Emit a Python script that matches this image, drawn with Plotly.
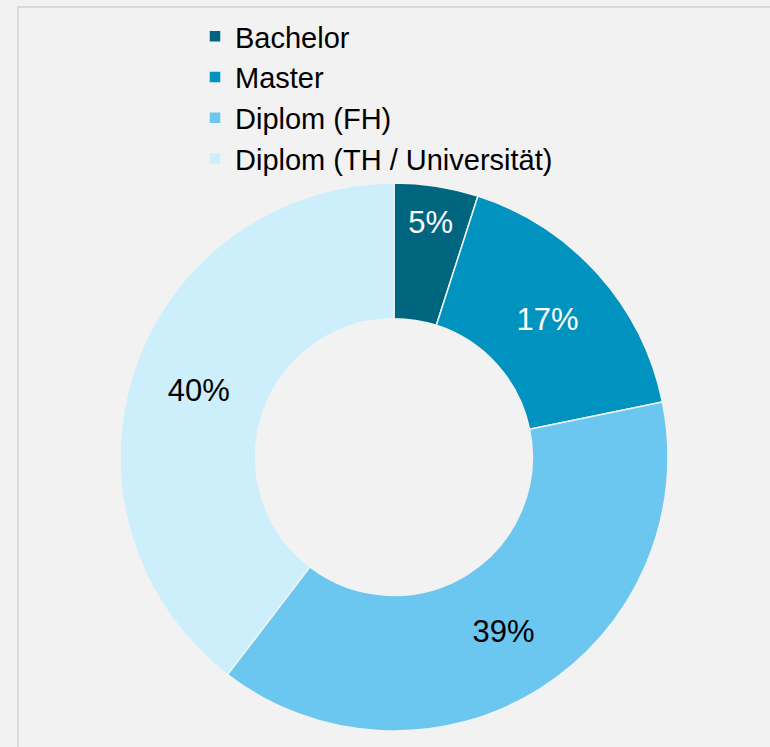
import plotly.graph_objects as go

# Data
categories = ["Bachelor", "Master", "Diplom (FH)", "Diplom (TH / Universität)"]
values = [5, 17, 39, 40]
colors = ["#00667F", "#0093BF", "#6BC6F0", "#CCEFFB"]
text_colors = ["#FFFFFF", "#FFFFFF", "#000000", "#000000"]

W, H = 770, 747
cx, cy, R = 394, 457, 274

fig = go.Figure(
    go.Pie(
        labels=categories,
        values=values,
        hole=0.505,
        sort=False,
        direction="clockwise",
        rotation=0,
        marker=dict(colors=colors, line=dict(color="#F2F2F2", width=1.5)),
        text=[f"{v}%" for v in values],
        textinfo="text",
        textposition="inside",
        insidetextorientation="horizontal",
        textfont=dict(family="Liberation Sans, Arial, sans-serif", size=31, color=text_colors),
        domain=dict(
            x=[(cx - R) / W, (cx + R) / W],
            y=[(H - cy - R) / H, (H - cy + R) / H],
        ),
        hoverinfo="label+percent",
    )
)

fig.update_layout(
    width=W,
    height=H,
    margin=dict(l=0, r=0, t=0, b=0),
    paper_bgcolor="#F2F2F2",
    plot_bgcolor="#F2F2F2",
    font=dict(family="Liberation Sans, Arial, sans-serif", color="#000000"),
    showlegend=True,
    legend=dict(
        x=195 / W,
        y=1 - 11 / H,
        xanchor="left",
        yanchor="top",
        font=dict(size=29, color="#000000"),
        bgcolor="rgba(0,0,0,0)",
        traceorder="normal",
    ),
    shapes=[
        dict(
            type="rect",
            xref="paper",
            yref="paper",
            x0=18 / W,
            x1=1.2,
            y0=-0.2,
            y1=1 - 7 / H,
            line=dict(color="#D9D9D9", width=2),
            fillcolor="rgba(0,0,0,0)",
            layer="below",
        )
    ],
)

fig.write_html(
    "out.html",
    config={"displayModeBar": False},
    post_script="document.body.style.margin='0';document.body.style.overflow='hidden';document.body.style.background='#F2F2F2';",
)
